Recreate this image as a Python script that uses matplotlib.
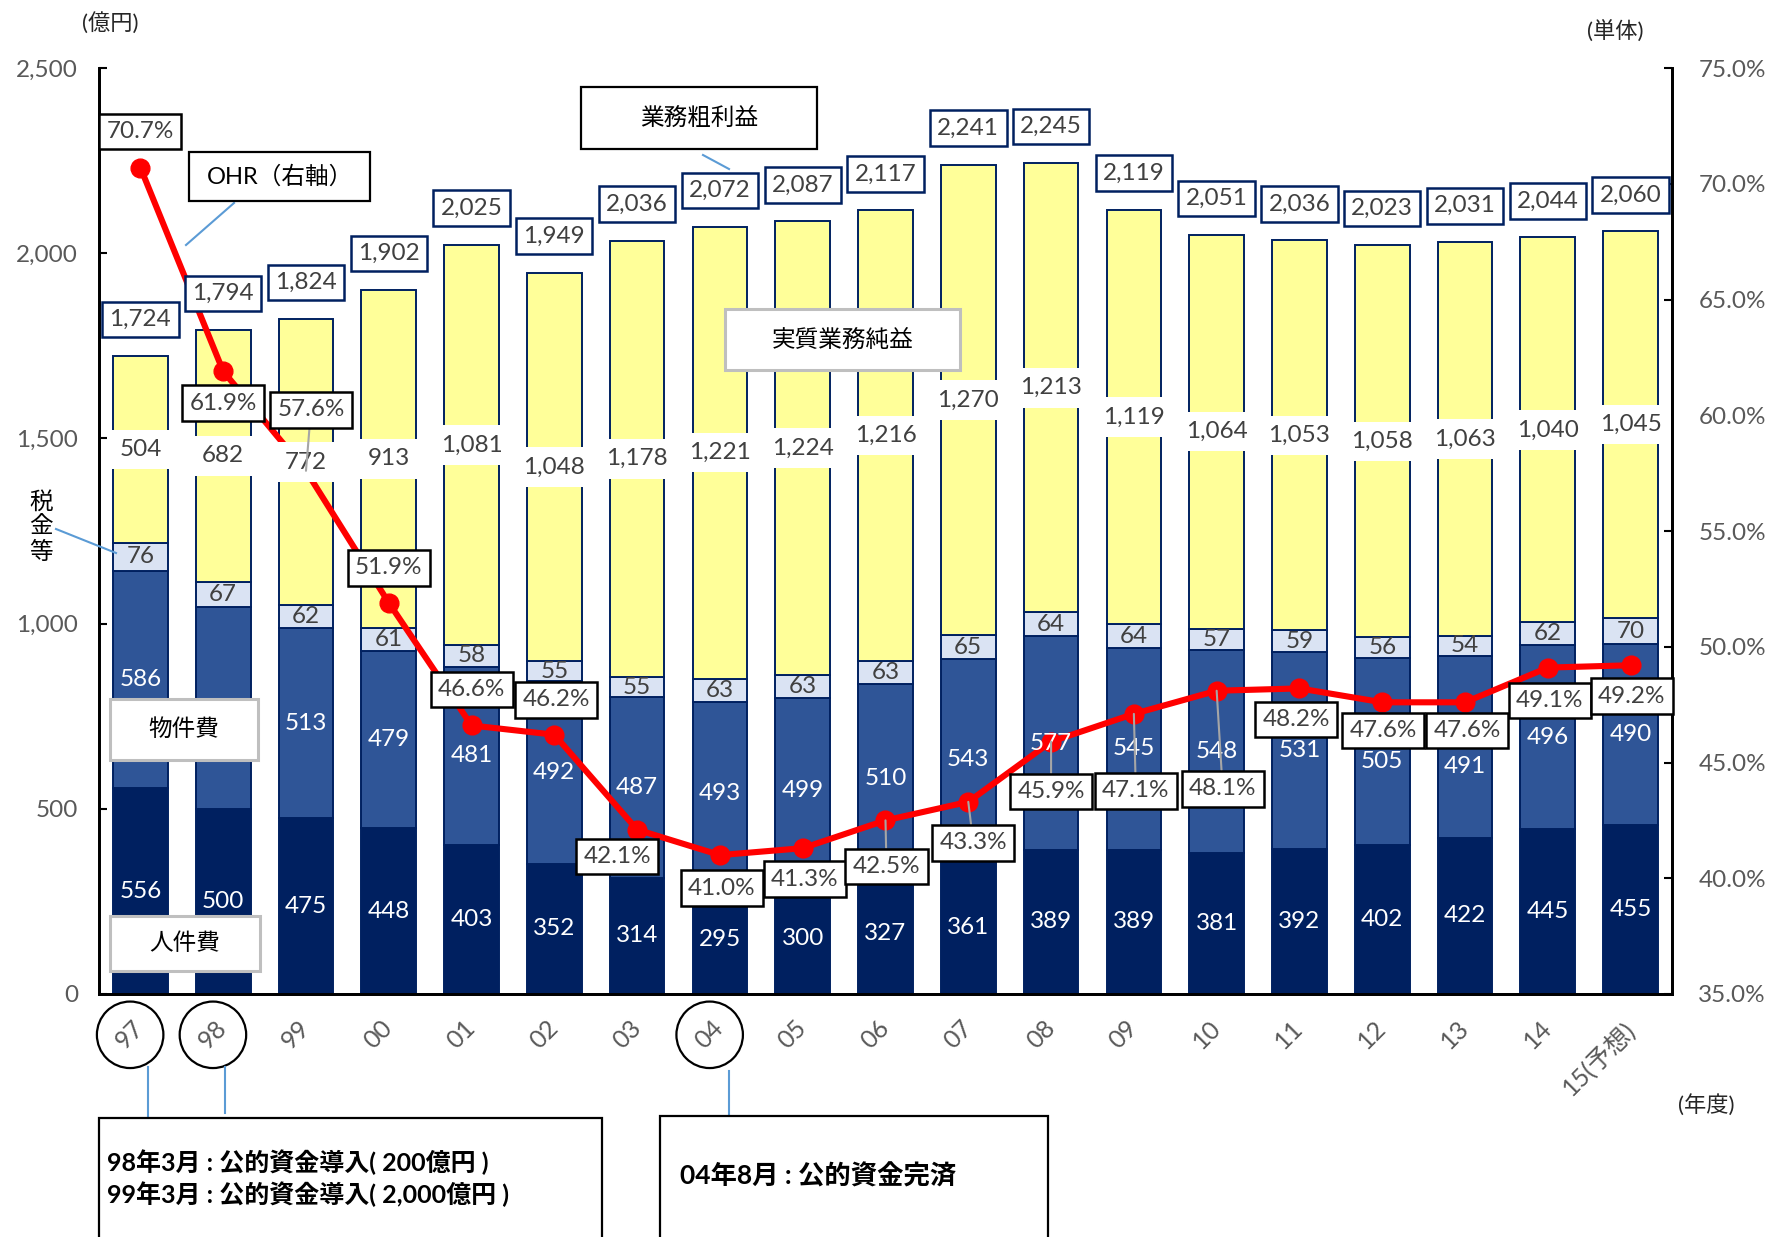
import matplotlib.pyplot as plt
import numpy as np
from matplotlib.lines import Line2D
from matplotlib.patches import Rectangle
from matplotlib.ticker import FuncFormatter, MultipleLocator

plt.rcParams["font.family"] = ["Lato", "Noto Sans CJK JP"]

W, H = 1771, 1237

# ── data ──────────────────────────────────────────────────────────────────────
YEARS = ["97", "98", "99", "00", "01", "02", "03", "04", "05", "06",
         "07", "08", "09", "10", "11", "12", "13", "14", "15(予想)"]
PERSONNEL = [556, 500, 475, 448, 403, 352, 314, 295, 300, 327,
             361, 389, 389, 381, 392, 402, 422, 445, 455]
PROPERTY = [586, 545, 513, 479, 481, 492, 487, 493, 499, 510,
            543, 577, 545, 548, 531, 505, 491, 496, 490]
TAXES = [76, 67, 62, 61, 58, 55, 55, 63, 63, 63,
         65, 64, 64, 57, 59, 56, 54, 62, 70]
NET_PROFIT = [504, 682, 772, 913, 1081, 1048, 1178, 1221, 1224, 1216,
              1270, 1213, 1119, 1064, 1053, 1058, 1063, 1040, 1045]
GROSS_PROFIT = [1724, 1794, 1824, 1902, 2025, 1949, 2036, 2072, 2087, 2117,
                2241, 2245, 2119, 2051, 2036, 2023, 2031, 2044, 2060]
OHR = [70.7, 61.9, 57.6, 51.9, 46.6, 46.2, 42.1, 41.0, 41.3, 42.5,
       43.3, 45.9, 47.1, 48.1, 48.2, 47.6, 47.6, 49.1, 49.2]

# label placement for the OHR boxes (pixels from the point)
OHR_OFFSETS = [(0, 36), (0, -32), (5, 61), (0, 35), (0, 36), (2, 35), (-20, -27),
               (2, -33), (2, -31), (1, -46), (5, -41), (0, -50), (2, -77), (6, -98),
               (-3, -31), (1, -28), (2, -28), (2, -33), (1, -31)]
# a couple of segment labels were nudged down in the original to clear the OHR boxes
SEG_SHIFT = {(1, 15): -10, (1, 16): -20}
# the 98 物件費 label sits under the callout in the original
SEG_HIDDEN = {(1, 1)}
CIRCLED = [0, 1, 7]

NAVY = "#002060"
BLUE = "#2F5597"
LIGHT = "#DAE3F3"
YELLOW = "#FFFF99"
GREY_TXT = "#404040"
TICK_TXT = "#595959"
LEADER = "#5B9BD5"
NUM_SIZE = 17.5


def fx(px):
    return px / W


def fy(py):
    return 1 - py / H


def callout(fig, x0, y0, x1, y1, text, ec, size=17, lw=1.6):
    fig.add_artist(Rectangle((fx(x0), fy(y1)), fx(x1 - x0), (y1 - y0) / H,
                             transform=fig.transFigure, fc="white", ec=ec, lw=lw, zorder=5))
    if text:
        fig.text(fx((x0 + x1) / 2), fy((y0 + y1) / 2), text, ha="center", va="center",
                 fontsize=size, color="black", zorder=6)


def leader(fig, x0, y0, x1, y1):
    fig.add_artist(Line2D([fx(x0), fx(x1)], [fy(y0), fy(y1)],
                          transform=fig.transFigure, color=LEADER, lw=1.5, zorder=4))


fig = plt.figure(figsize=(W / 100, H / 100), dpi=100)
ax = fig.add_axes([fx(99), fy(994), fx(1672 - 99), (994 - 68) / H])
ax2 = ax.twinx()

x = np.arange(len(YEARS))
segments = [
    (PERSONNEL, NAVY, "white"),
    (PROPERTY, BLUE, "white"),
    (TAXES, LIGHT, GREY_TXT),
    (NET_PROFIT, YELLOW, GREY_TXT),
]
bottom = np.zeros(len(YEARS))
for k, (vals, color, tcolor) in enumerate(segments):
    vals = np.array(vals)
    ax.bar(x, vals, 0.66, bottom=bottom, color=color, edgecolor=NAVY, linewidth=1.4, zorder=2)
    for i, v in enumerate(vals):
        if (k, i) in SEG_HIDDEN:
            continue
        kw = {}
        if color == YELLOW:
            kw["bbox"] = dict(boxstyle="square,pad=0.38", fc="white", ec="none")
        ax2.annotate(f"{v:,}", xy=(i, bottom[i] + v / 2), xycoords=ax.transData,
                     xytext=(0, SEG_SHIFT.get((k, i), 0)), textcoords="offset pixels",
                     ha="center", va="center", fontsize=NUM_SIZE, color=tcolor, zorder=4, **kw)
    bottom = bottom + vals

for i, t in enumerate(GROSS_PROFIT):
    ax2.annotate(f"{t:,}", xy=(i, t), xycoords=ax.transData, xytext=(0, 36),
                 textcoords="offset pixels", ha="center", va="center", fontsize=NUM_SIZE,
                 color=GREY_TXT, zorder=5,
                 bbox=dict(boxstyle="square,pad=0.3", fc="white", ec=NAVY, lw=1.8))

ax2.plot(x, OHR, color="#FF0000", lw=4.4, marker="o", markersize=13.5, zorder=3)
for i, (v, (dx, dy)) in enumerate(zip(OHR, OHR_OFFSETS)):
    arrow = None
    if abs(dy) > 40:
        arrow = dict(arrowstyle="-", color="#A6A6A6", lw=1.5, shrinkA=0, shrinkB=0)
    ax2.annotate(f"{v:.1f}%", xy=(i, v), xytext=(dx, dy), textcoords="offset pixels",
                 ha="center", va="center", fontsize=NUM_SIZE, color=GREY_TXT, zorder=6,
                 arrowprops=arrow,
                 bbox=dict(boxstyle="square,pad=0.3", fc="white", ec="black", lw=1.8))

# axes styling
ax.set_xlim(-0.5, len(YEARS) - 0.5)
ax.set_ylim(0, 2500)
ax2.set_ylim(35, 75)
ax.yaxis.set_major_locator(MultipleLocator(500))
ax.yaxis.set_major_formatter(FuncFormatter(lambda v, p: f"{int(v):,}"))
ax2.yaxis.set_major_locator(MultipleLocator(5))
ax2.yaxis.set_major_formatter(FuncFormatter(lambda v, p: f"{v:.1f}%"))

for a in (ax, ax2):
    a.spines["top"].set_visible(False)
    for s in ("left", "right", "bottom"):
        a.spines[s].set_linewidth(2)
        a.spines[s].set_color("black")
ax.tick_params(axis="y", direction="in", length=6, width=1.5, labelsize=NUM_SIZE,
               labelcolor=TICK_TXT, pad=15)
ax2.tick_params(axis="y", direction="in", length=6, width=1.5, labelsize=NUM_SIZE,
                labelcolor=TICK_TXT, pad=19)

ax.set_xticks(x)
ax.set_xticklabels(YEARS, rotation=45, ha="right", va="center", rotation_mode="anchor")
ax.tick_params(axis="x", length=0, labelsize=18, labelcolor=TICK_TXT, pad=22)
for i, lbl in enumerate(ax.get_xticklabels()):
    if i in CIRCLED:
        lbl.set_bbox(dict(boxstyle="circle,pad=0.75", fc="none", ec="black", lw=1.6))

# unit labels
fig.text(fx(110), fy(23), "(億円)", ha="center", va="center", fontsize=16, color="#262626")
fig.text(fx(1615), fy(32), "(単体)", ha="center", va="center", fontsize=16, color="#262626")
fig.text(fx(1706), fy(1105), "(年度)", ha="center", va="center", fontsize=16, color="#262626")
fig.text(fx(41), fy(527), "税\n金\n等", ha="center", va="center", fontsize=17,
         color="black", linespacing=1.2)
leader(fig, 56, 529, 116, 553)

# callouts
callout(fig, 189, 152, 370, 201, "OHR（右軸）", "black")
leader(fig, 234, 203, 186, 245)
callout(fig, 581, 87, 817, 149, "業務粗利益", "black")
leader(fig, 703, 155, 729, 169)
callout(fig, 725, 309, 960, 370, "実質業務純益", "#BFBFBF", lw=2.2)
callout(fig, 110, 699, 258, 760, "物件費", "#BFBFBF", lw=2.2)
callout(fig, 110, 916, 260, 971, "人件費", "#BFBFBF", lw=2.2)

# public funds notes
leader(fig, 148, 1067, 148, 1118)
leader(fig, 225, 1067, 225, 1113)
leader(fig, 729, 1071, 729, 1116)
callout(fig, 99, 1118, 602, 1250, "", "black")
fig.text(fx(107), fy(1162), "98年3月 : 公的資金導入( 200億円 )", ha="left", va="center",
         fontsize=18, fontweight="bold", zorder=6)
fig.text(fx(107), fy(1194), "99年3月 : 公的資金導入( 2,000億円 )", ha="left", va="center",
         fontsize=18, fontweight="bold", zorder=6)
callout(fig, 660, 1116, 1048, 1250, "", "black")
fig.text(fx(680), fy(1176), "04年8月 : 公的資金完済", ha="left", va="center",
         fontsize=19, fontweight="bold", zorder=6)

fig.savefig("out.png", dpi=100)
